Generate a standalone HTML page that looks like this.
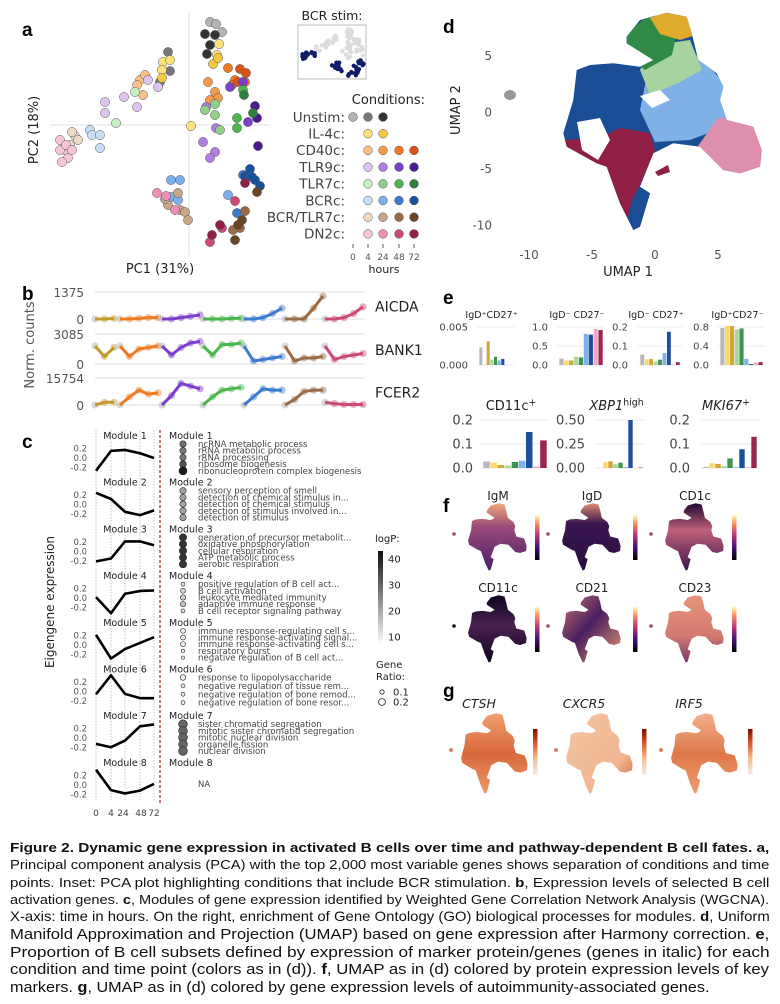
<!DOCTYPE html>
<html><head><meta charset="utf-8">
<style>
html,body{margin:0;padding:0;background:#fff;}
svg{display:block;font-family:"DejaVu Sans","Liberation Sans",sans-serif;}
</style></head>
<body>
<svg id="fig" width="780" height="1004" viewBox="0 0 780 1004" xmlns="http://www.w3.org/2000/svg">
<defs>
<linearGradient id="magma" x1="0" y1="1" x2="0" y2="0"><stop offset="0" stop-color="#000004"/><stop offset="0.3" stop-color="#51127c"/><stop offset="0.55" stop-color="#b73779"/><stop offset="0.8" stop-color="#fc8961"/><stop offset="1" stop-color="#fcfdbf"/></linearGradient>
<linearGradient id="oranges" x1="0" y1="1" x2="0" y2="0"><stop offset="0" stop-color="#eeeeee"/><stop offset="0.35" stop-color="#f6bf90"/><stop offset="0.7" stop-color="#d9572c"/><stop offset="1" stop-color="#7f0a00"/></linearGradient>
<linearGradient id="logpbar" x1="0" y1="1" x2="0" y2="0"><stop offset="0" stop-color="#ffffff"/><stop offset="1" stop-color="#111111"/></linearGradient>
<linearGradient id="gIgM" x1="0" y1="0" x2="0" y2="1"><stop offset="0" stop-color="#f2a878"/><stop offset="0.35" stop-color="#9a4a7a"/><stop offset="1" stop-color="#4a2068"/></linearGradient>
<linearGradient id="gIgD" x1="0" y1="0" x2="0" y2="1"><stop offset="0" stop-color="#e08a70"/><stop offset="0.3" stop-color="#3a1650"/><stop offset="1" stop-color="#2a0e40"/></linearGradient>
<linearGradient id="gCD1c" x1="0" y1="0" x2="0" y2="1"><stop offset="0" stop-color="#1e0a32"/><stop offset="0.4" stop-color="#c0607a"/><stop offset="1" stop-color="#3a1650"/></linearGradient>
<linearGradient id="gCD11c" x1="0" y1="0" x2="0" y2="1"><stop offset="0" stop-color="#100620"/><stop offset="0.45" stop-color="#4a2050"/><stop offset="1" stop-color="#100620"/></linearGradient>
<linearGradient id="gCD21" x1="0" y1="0" x2="1" y2="1"><stop offset="0" stop-color="#c87470"/><stop offset="0.45" stop-color="#4a1e60"/><stop offset="1" stop-color="#e89a70"/></linearGradient>
<linearGradient id="gCD23" x1="0" y1="0" x2="0" y2="1"><stop offset="0" stop-color="#e89478"/><stop offset="0.6" stop-color="#d27a70"/><stop offset="1" stop-color="#7a3a70"/></linearGradient>
<linearGradient id="gCTSH" x1="0" y1="0" x2="0" y2="1"><stop offset="0" stop-color="#f0a070"/><stop offset="0.5" stop-color="#d8683c"/><stop offset="1" stop-color="#ec9a6c"/></linearGradient>
<linearGradient id="gCXCR5" x1="0" y1="0" x2="1" y2="1"><stop offset="0" stop-color="#f4c6a4"/><stop offset="0.7" stop-color="#f0b690"/><stop offset="1" stop-color="#d05a30"/></linearGradient>
<linearGradient id="gIRF5" x1="0" y1="0" x2="0" y2="1"><stop offset="0" stop-color="#f2b090"/><stop offset="0.5" stop-color="#de7848"/><stop offset="1" stop-color="#ee9c70"/></linearGradient>
<path id="umapShape" d="M63.7,24.7 L77,8 L103.7,0.7 L123.7,4.7 L128.7,21.3 L135.3,48 L153.7,61.3 L160.3,74.7 L157,88 L163.7,108 L190.3,114.7 L198.7,138 L197,154.7 L177,161.3 L160.3,158 L137,134.7 L110.3,131.3 L90.3,141.3 L77,174.7 L87,181.3 L77,214.7 L70.3,218 L57,191.3 L43.7,154.7 L33.7,151.3 L3.7,134.7 L0.3,121.3 L10.3,88 L13.7,58 L27,53 L50.3,51.3 L77,54.7 L90.3,48 L63.7,31.3 Z"/>
<clipPath id="umapClip"><use href="#umapShape" transform="translate(563,12)"/></clipPath>
</defs>
<g id="root"></g>
</svg>
<script>
// ---------- DATA ----------
const condNames = ["Unstim:","IL-4c:","CD40c:","TLR9c:","TLR7c:","BCRc:","BCR/TLR7c:","DN2c:"];
const condColors = [
 ["#b3b3b3","#777777","#333333"],
 ["#fde27a","#f5c842"],
 ["#f9c08a","#f39a4c","#f07a22","#d9541c"],
 ["#dcc3f0","#b07ee3","#7c3fc9","#4a1a8e"],
 ["#c4efc1","#8fcf8a","#4bb54e","#2c8141"],
 ["#c6dff7","#7ab1ea","#3c7ad0","#17519c"],
 ["#eed9c6","#caa586","#9a6b44","#6a4525"],
 ["#f6c6d8","#ee8fb5","#cc4a7a","#93204a"]];
const condTimeCols = [[0,1,2],[1,2],[1,2,3,4],[1,2,3,4],[1,2,3,4],[1,2,3,4],[1,2,3,4],[1,2,3,4]];
const hourLabels = ["0","4","24","48","72"];
// PCA points: condition, shade, PC1, PC2
const pcaCond  = [0,0,0, 0,0,0, 0,0,0,0, 1,1,1,1,1,1, 1,1,1, 2,2,2,2, 2,2,2,2, 2,2,2,2, 2,2,2, 3,3,3,3,3,3, 3,3,3,3,3, 3,3,3, 3,3,3, 4,4, 4,4,4,4, 4,4,4, 4,4, 5,5,5,5, 5,5,5,5,5, 5,5, 5,5,5,5,5, 6,6,6,6, 6,6,6,6,6,6, 6,6,6, 6,6,6,6, 7,7,7,7,7,7,7, 7,7,7, 7,7,7, 7,7,7];
const pcaShade = [0,0,0, 1,1,1, 2,2,2,2, 0,0,0,0,0,0, 1,1,1, 0,0,0,0, 1,1,1,1, 2,2,2,2, 3,3,3, 0,0,0,0,0,0, 1,1,1,1,1, 2,2,2, 3,3,3, 0,0, 1,1,1,1, 2,2,2, 3,3, 0,0,0,0, 1,1,1,1,1, 2,2, 3,3,3,3,3, 0,0,0,0, 1,1,1,1,1,1, 2,2,2, 3,3,3,3, 0,0,0,0,0,0,0, 1,1,1, 2,2,2, 3,3,3];
const pcaPC1 = [10.5,13.5,16.5, -10.5,-9.5,-14.5, 8,13,10.5,9, -13,-9.5,-13.5,1,15,14, 12,14.5,-13.5, -24.5,-23,-22,-26, 9.5,13,14.5,10.5, 19.5,23,21.5,28, 25.5,28.5,24.5, -42,-42,-32.5,-26,-20.5,-15.5, 7,8.5,13,10.5,13.5, 20.5,27,29.5, 33,34,34.5, -36.5,-27, 13,13,15.5,8, 24,24,27, 27.5,32, -49.5,-48.5,-44.5,-44.5, -9,-4.5,-9,-5.5,19.5, 24,27, 30.5,28,31.5,35.5,33, -57,-55.5,-59.5,-58.5, -5.5,-4.5,-2,-10.5,-12,-0.5, 25.5,22,28, 34,26.5,24.5,23, -64.5,-62,-64.5,-60.5,-63.5,-61.5,-58.5, -16,-7,-11.5, 23,16.5,10.5, 28,15.5,11.5];
const pcaPC2 = [51.5,50.5,46.5, 36.5,27,21.5, 45.5,45,40,35.5, 31.5,32.5,27.5,-0.5,40.5,35, 30.5,33.5,23.5, 22.5,15,25,20, 21.5,16.5,13.5,12.5, 28.5,22.5,20,21.5, 28,26,21.5, 11.5,6,14,9,22.5,19, -8.5,9,-13.5,-16.5,-1.5, 19,21.5,1.5, 9.5,3.5,-10.5, 1,16.5, 10.5,5,-2.5,7.5, 3.5,-1.5,17.5, 15,6, -2.5,-5,-5,-11.5, -27.5,-27.5,-36,-37.5,-35, -44,-25, -22,-25.5,-26,-30.5,-27.5, -5.5,-7.5,-10,-3.5, -34,-42.5,-43.5,-40,-37,-47.5, -51.5,-52.5,-43, -33.5,-47.5,-50,-57.5, -7.5,-12.5,-12.5,-16.5,-18.5,-10,-12.5, -34,-42.5,-35.5, -38,-51.5,-58.5, -29,-50,-55];
const bcrStimConds = [5,6,7];

// Panel b
const bGenes = ["AICDA","BANK1","FCER2"];
const bMax = ["1375","3085","15754"];
const bGroupColors = ["#c49a2a","#f07a22","#7c3fc9","#4bb54e","#3c7ad0","#9a6b44","#cc4a7a"];
const bAICDA = [[0,0,0.02],[0,0,0.02,0.05,0.05],[0,0,0.05,0.1,0.15],[0,0,0,0.02,0.03],[0,0,0.05,0.2,0.4],[0,0,0,0.4,0.85],[0,0,0.05,0.2,0.45]];
const bBANK1 = [[0.6,0.25,0.55],[0.6,0.25,0.5,0.55,0.6],[0.6,0.3,0.55,0.7,0.75],[0.6,0.3,0.65,0.65,0.7],[0.6,0.1,0.15,0.2,0.25],[0.6,0.1,0.2,0.2,0.25],[0.6,0.15,0.25,0.3,0.35]];
const bFCER2 = [[0,0.1,0.1],[0,0.3,0.55,0.4,0.45],[0,0.35,0.8,0.7,0.6],[0,0.3,0.55,0.6,0.65],[0,0.3,0.6,0.55,0.55],[0,0.2,0.5,0.55,0.55],[0.1,0.05,0.02,0.02,0.02]];

// Panel c
const moduleNames = ["Module 1","Module 2","Module 3","Module 4","Module 5","Module 6","Module 7","Module 8"];
const eigenTicks = ["0.2","0.0","-0.2"];
const eigen = [[-0.27,0.15,0.17,0.1,0.0],[0.25,0.12,-0.15,-0.22,-0.12],[-0.21,-0.15,0.21,0.21,0.13],[0.02,-0.32,0.09,0.15,0.16],[0.21,-0.29,-0.09,0.04,0.16],[-0.06,0.34,-0.05,-0.14,-0.14],[-0.12,-0.19,-0.05,0.25,0.29],[0.32,-0.11,-0.18,-0.12,0.02]];
const goTerms = [
 ["ncRNA metabolic process","rRNA metabolic process","rRNA processing","ribosome biogenesis","ribonucleoprotein complex biogenesis"],
 ["sensory perception of smell","detection of chemical stimulus in...","detection of chemical stimulus","detection of stimulus involved in...","detection of stimulus"],
 ["generation of precursor metabolit...","oxidative phosphorylation","cellular respiration","ATP metabolic process","aerobic respiration"],
 ["positive regulation of B cell act...","B cell activation","leukocyte mediated immunity","adaptive immune response","B cell receptor signaling pathway"],
 ["immune response-regulating cell s...","immune response-activating signal...","immune response-activating cell s...","respiratory burst","negative regulation of B cell act..."],
 ["response to lipopolysaccharide","negative regulation of tissue rem...","negative regulation of bone remod...","negative regulation of bone resor..."],
 ["sister chromatid segregation","mitotic sister chromatid segregation","mitotic nuclear division","organelle fission","nuclear division"],
 []];
const goLogP = [[28,27,27,33,42],[20,20,20,20,20],[38,38,38,38,38],[10,12,13,15,10],[8,8,8,8,8],[8,8,8,8],[30,30,30,30,30],[]];
const goRatio = [[0.18,0.18,0.18,0.2,0.25],[0.18,0.18,0.18,0.18,0.18],[0.22,0.22,0.22,0.22,0.22],[0.08,0.12,0.14,0.14,0.08],[0.12,0.12,0.12,0.06,0.05],[0.15,0.08,0.08,0.08],[0.28,0.28,0.28,0.28,0.28],[]];
const logpTicks = [40,30,20,10];
const ratioTicks = [0.1,0.2];

// Panel d
const umapXTicks = [-10,-5,0,5];
const umapYTicks = [5,0,-5,-10];

// Panel e
const eColors = ["#b8b8b8","#fcd86a","#d4a537","#a9d89a","#3e9450","#7fb1ec","#1c4f9c","#f3a5c2","#9c2450"];
const eTitles = ["IgD⁺CD27⁺","IgD⁻ CD27⁻","IgD⁻ CD27⁺","IgD⁺CD27⁻"];
const eTicksTop = [["0.005","0.000"],["1.0","0.5","0.0"],["0.2","0.1","0.0"],["0.8","0.4","0.0"]];
const eMaxTop = [0.005,1.0,0.2,0.8];
const eVal1 = [0.0023,0,0.0031,0.0007,0.0011,0.0006,0.0008,0,0];
const eVal2 = [0.17,0.12,0.12,0.22,0.2,0.82,0.8,0.95,0.92];
const eVal3 = [0.055,0.03,0.032,0.018,0.028,0.063,0.175,0.002,0.015];
const eVal4 = [0.78,0.82,0.82,0.75,0.77,0.13,0.02,0.05,0.06];
const eTitlesBot = ["CD11c","XBP1","MKI67"];
const eTicksBot = [["0.2","0.1","0.0"],["0.50","0.25","0.00"],["0.2","0.1","0.0"]];
const eMaxBot = [0.2,0.5,0.2];
const eVal5 = [0.027,0.022,0.012,0.01,0.025,0.03,0.15,0.006,0.115];
const eVal6 = [0,0.06,0.07,0.04,0.055,0.01,0.5,0,0.005];
const eVal7 = [0.005,0.02,0.017,0.008,0.04,0.003,0.078,0.003,0.13];

// Panel f / g
const fMarkers = ["IgM","IgD","CD1c","CD11c","CD21","CD23"];
const gGenes = ["CTSH","CXCR5","IRF5"];

// ---------- DRAW ----------
const NS = "http://www.w3.org/2000/svg";
const root = document.getElementById("root");
function mk(tag, attrs, parent, txt){
  const e = document.createElementNS(NS, tag);
  for (const k in attrs) e.setAttribute(k, attrs[k]);
  if (txt !== undefined) e.textContent = txt;
  (parent || root).appendChild(e);
  return e;
}
function grp(parent){ return mk("g", {}, parent); }
let e;

// Panel labels
const panelLabels = [["a",22,36],["b",22,300],["c",22,448],["d",443,33],["e",443,304],["f",443,512],["g",443,697]];
for (const p of panelLabels){
  e = mk("text",{x:p[1],y:p[2],"font-size":"19","font-weight":"bold","font-family":"Liberation Sans, sans-serif"},root,p[0]);
  
  
}

// ===== Panel a =====
const gA = grp();  
const ax = v => 189 + v*2, ay = v => 125 - v*2;
e = mk("line",{x1:50,x2:270,y1:ay(0),y2:ay(0),stroke:"#e6e6e6","stroke-width":1.2},gA);
 
e = mk("line",{x1:ax(0),x2:ax(0),y1:12,y2:255,stroke:"#e6e6e6","stroke-width":1.2},gA);
 
for (let i=0;i<pcaPC1.length;i++){
  e = mk("circle",{cx:ax(pcaPC1[i]),cy:ay(pcaPC2[i]),r:4.6,fill:condColors[pcaCond[i]][pcaShade[i]],stroke:"#555","stroke-width":0.5},gA);
  
  
}
e = mk("text",{x:160,y:273,"font-size":"13","text-anchor":"middle",fill:"#222"},gA,"PC1 (31%)");
 
e = mk("text",{x:0,y:0,"font-size":"13","text-anchor":"middle",fill:"#222",transform:"translate(38,130) rotate(-90)"},gA,"PC2 (18%)");
 
// inset
e = mk("text",{x:332,y:20,"font-size":"12.5","text-anchor":"middle",fill:"#222"},gA,"BCR stim:");
 
e = mk("rect",{x:298,y:25,width:68,height:54,fill:"#fff",stroke:"#bbb","stroke-width":1},gA);
 
const ix = v => 301 + (ax(v)-55)*0.305, iy = v => 28 + (ay(v)-15)*0.21;
for (let i=0;i<pcaPC1.length;i++){
  const isB = bcrStimConds.includes(pcaCond[i]);
  e = mk("circle",{cx:ix(pcaPC1[i]),cy:iy(pcaPC2[i]),r:2.2,fill:isB?"#101e6a":"#dcdcdc"},gA);
   
}
// legend
e = mk("text",{x:425,y:104,"font-size":"13","text-anchor":"end",fill:"#222"},gA,"Conditions:");
 
const legCols = [353,368,383,399,414];
for (let c=0;c<condNames.length;c++){
  const y = 117 + c*16.7;
  e = mk("text",{x:345,y:y+4.8,"font-size":"13.5","text-anchor":"end",fill:"#444"},gA,condNames[c]);
   
  for (let s=0;s<condColors[c].length;s++){
    e = mk("circle",{cx:legCols[condTimeCols[c][s]],cy:y,r:4.4,fill:condColors[c][s],stroke:"#555","stroke-width":0.5},gA);
     
  }
}
for (let t=0;t<hourLabels.length;t++){
  e = mk("line",{x1:legCols[t],x2:legCols[t],y1:244,y2:248,stroke:"#555","stroke-width":1},gA);
   
  e = mk("text",{x:legCols[t],y:260,"font-size":"9","text-anchor":"middle",fill:"#555"},gA,hourLabels[t]);
   
}
e = mk("text",{x:384,y:273,"font-size":"11","text-anchor":"middle",fill:"#222"},gA,"hours");
 

// ===== Panel b =====
const gB = grp();  
const bRows = [[292,319],[334,364],[378,405]];
const bData = [bAICDA,bBANK1,bFCER2];
const bStarts = [95,120,162,203,244,285,325];
for (let r=0;r<3;r++){
  const top=bRows[r][0], base=bRows[r][1];
  const by = v => base - v*(base-top);
  for (const yy of [top,base]){
    e = mk("line",{x1:95,x2:365,y1:yy,y2:yy,stroke:"#e4e4e4","stroke-width":1.2},gB);
     
  }
  e = mk("text",{x:84,y:top+5,"font-size":"12","text-anchor":"end",fill:"#555"},gB,bMax[r]);
   
  e = mk("text",{x:84,y:base+5,"font-size":"12","text-anchor":"end",fill:"#555"},gB,"0");
   
  e = mk("text",{x:375,y:(top+base)/2+6,"font-size":"14",fill:"#222"},gB,bGenes[r]);
   
  for (let g=0;g<7;g++){
    const vals = bData[r][g];
    const pts = vals.map((v,i)=>[bStarts[g]+i*9.5, by(v)]);
    for (let i=0;i<pts.length;i++){
      e = mk("circle",{cx:pts[i][0],cy:pts[i][1],r:3.6,fill:i===0?"#aaaaaa":bGroupColors[g],"fill-opacity":0.45},gB);
       
    }
    e = mk("polyline",{points:pts.map(p=>p.join(",")).join(" "),fill:"none",stroke:bGroupColors[g],"stroke-width":3,"stroke-linejoin":"round"},gB);
     
  }
}
e = mk("text",{x:0,y:0,"font-size":"13","text-anchor":"middle",fill:"#555",transform:"translate(34,345) rotate(-90)"},gB,"Norm. counts");
 

// ===== Panel c =====
const gC = grp();  
const cX = [96,111,125,140,154];
for (let t=0;t<cX.length;t++){
  e = mk("line",{x1:cX[t],x2:cX[t],y1:430,y2:802,stroke:"#aaa","stroke-width":0.7,"stroke-dasharray":"1.5,1.5"},gC);
   
  e = mk("text",{x:cX[t]+(t===2?-2:t===3?1:0),y:816,"font-size":"9","text-anchor":"middle",fill:"#444"},gC,hourLabels[t]);
   
}
e = mk("line",{x1:160,x2:160,y1:430,y2:803,stroke:"#8b2c1e","stroke-width":1.2,"stroke-dasharray":"3,2"},gC);
 
e = mk("text",{x:0,y:0,"font-size":"12","text-anchor":"middle",fill:"#222",transform:"translate(54,602) rotate(-90)"},gC,"Eigengene expression");
 
const greyOf = lp => { let t=Math.max(0,Math.min(1,(lp-6)/38)); const g=Math.round(250-t*235); return "rgb("+g+","+g+","+g+")"; };
const radOf = ra => 1+ra*12;
for (let m=0;m<8;m++){
  const ty = 435 + m*46.7;
  const zy = v => ty + 23 - v*47.5;
  e = mk("text",{x:125,y:ty+4,"font-size":"9.5","text-anchor":"middle",fill:"#222"},gC,moduleNames[m]);
   
  const tv=[0.2,0.0,-0.2];
  for (let k=0;k<3;k++){
    e = mk("text",{x:87,y:zy(tv[k])+3,"font-size":"8.5","text-anchor":"end",fill:"#555"},gC,eigenTicks[k]);
     
  }
  e = mk("polyline",{points:eigen[m].map((v,i)=>cX[i]+","+zy(v)).join(" "),fill:"none",stroke:"#000","stroke-width":2.6,"stroke-linejoin":"round"},gC);
   
  e = mk("text",{x:169,y:ty+4,"font-size":"9.5",fill:"#222"},gC,moduleNames[m]);
   
  const n = goTerms[m].length;
  const sp = n? 33.5/n : 0;
  for (let k=0;k<n;k++){
    const yy = ty + 9 + k*sp;
    e = mk("circle",{cx:183,cy:yy,r:radOf(goRatio[m][k]),fill:greyOf(goLogP[m][k]),stroke:"#222","stroke-width":0.6},gC);
     
    e = mk("text",{x:198,y:yy+3,"font-size":"8.6",fill:"#444"},gC,goTerms[m][k]);
     
  }
  if (n===0){
    e = mk("text",{x:198,y:787,"font-size":"8.5",fill:"#444"},gC,"NA");
     
  }
}
e = mk("text",{x:375,y:542,"font-size":"10",fill:"#222"},gC,"logP:");
 
e = mk("rect",{x:378,y:551,width:5,height:94,fill:"url(#logpbar)"},gC);
 
for (const t of logpTicks){
  const yy = 645 - (t-7)/36*94;
  e = mk("text",{x:388,y:yy+3.5,"font-size":"10",fill:"#222"},gC,String(t));
   
}
e = mk("text",{x:376,y:668,"font-size":"10",fill:"#222"},gC,"Gene");
 
e = mk("text",{x:376,y:680,"font-size":"10",fill:"#222"},gC,"Ratio:");
 
for (let k=0;k<ratioTicks.length;k++){
  const yy = 692 + k*10;
  e = mk("circle",{cx:382,cy:yy,r:radOf(ratioTicks[k]),fill:"#fff",stroke:"#222","stroke-width":0.8},gC);
   
  e = mk("text",{x:393,y:yy+3.5,"font-size":"10",fill:"#222"},gC,String(ratioTicks[k]));
   
}

// ===== Panel d =====
const gD = grp();  
const ux = v => 655 + v*12.6, uy = v => 112 - v*11.3;
const regions = [
 ["#7fb0e6","650,60 700,55 725,85 730,125 690,140 655,142 640,110"],
 ["#a7d3a0","655,45 690,40 702,70 680,82 650,95 640,70"],
 ["#2f8a45","618,40 650,14 680,18 672,55 645,70 622,52"],
 ["#e0aa2c","650,18 670,10 692,14 696,35 680,40 660,34"],
 ["#8f1f45","563,140 600,138 620,128 650,133 655,150 640,185 632,200 625,228 600,180 580,165"],
 ["#de8fae","718,118 770,118 770,178 718,178 698,146"],
 ["#1a4d94","634,195 652,190 650,232 632,232"]];
const gU = mk("g",{"clip-path":"url(#umapClip)"},gD);
e = mk("rect",{x:560,y:8,width:215,height:230,fill:"#1a4d94"},gU);
 
for (const r of regions){
  e = mk("polygon",{points:r[1],fill:r[0]},gU);
   
}
e = mk("polygon",{points:"577,122 600,118 610,140 598,160 582,150",fill:"#fff"},gD);
 
e = mk("polygon",{points:"640,96 660,90 670,100 652,108",fill:"#fff"},gD);
 
e = mk("polygon",{points:"655,172 668,165 670,172 658,176",fill:"#8f1f45"},gD);
 
e = mk("ellipse",{cx:510,cy:95,rx:6,ry:5,fill:"#999"},gD);
 
for (const t of umapXTicks){
  e = mk("text",{x:ux(t),y:259,"font-size":"12","text-anchor":"middle",fill:"#555"},gD,String(t));
   
}
for (const t of umapYTicks){
  e = mk("text",{x:492,y:uy(t)+4.5,"font-size":"12","text-anchor":"end",fill:"#555"},gD,String(t));
   
}
e = mk("text",{x:628,y:276,"font-size":"13","text-anchor":"middle",fill:"#222"},gD,"UMAP 1");
 
e = mk("text",{x:0,y:0,"font-size":"13","text-anchor":"middle",fill:"#222",transform:"translate(460,110) rotate(-90)"},gD,"UMAP 2");
 

// ===== Panel e =====
const gE = grp();  
function barChart(vals, maxv, ticks, x0, x1, top, base, labelX, fs, title, titleX, titleY, titleFs, name, italic, sup){
  const yb = v => base - v/maxv*(base-top);
  const tickVals = ticks.map((t,i)=> maxv*(1 - i/(ticks.length-1)));
  for (let i=0;i<ticks.length;i++){
    const yy = yb(tickVals[i]);
    e = mk("line",{x1:x0-2,x2:x1+2,y1:yy,y2:yy,stroke:"#ebebeb","stroke-width":1},gE);
     
    e = mk("text",{x:labelX,y:yy+fs*0.36,"font-size":fs,"text-anchor":"end",fill:"#444"},gE,ticks[i]);
     
  }
  const bw = (x1-x0)/vals.length;
  for (let i=0;i<vals.length;i++){
    const h = base - yb(vals[i]);
    e = mk("rect",{x:x0+i*bw+0.3,y:base-h,width:bw-0.6,height:h,fill:eColors[i]},gE);
    
    
  }
  const t = mk("text",{x:titleX,y:titleY,"font-size":titleFs,"text-anchor":"middle",fill:"#222","font-style":italic?"italic":"normal"},gE,title);
  if (sup){ mk("tspan",{"font-size":titleFs*0.72,dy:-titleFs*0.35,"font-style":"normal"},t,sup); }
   
}
const topVals = [eVal1,eVal2,eVal3,eVal4];
const topX = [[479,512],[559,603],[640,680],[720,763]];
const topLab = [468,548,628,709];
for (let c=0;c<4;c++) barChart(topVals[c],eMaxTop[c],eTicksTop[c],topX[c][0],topX[c][1],327,365,topLab[c],10,eTitles[c],(topX[c][0]+topX[c][1])/2-4,318,9.5,"subset-"+(c+1),false,null);
const botVals = [eVal5,eVal6,eVal7];
const botX = [[483,547],[598,643],[703,757]];
const botLab = [473,585,690];
const botSup = ["+","high","+"];
for (let c=0;c<3;c++) barChart(botVals[c],eMaxBot[c],eTicksBot[c],botX[c][0],botX[c][1],420,468,botLab[c],13,eTitlesBot[c],(botX[c][0]+botX[c][1])/2-4,410,13,"marker-"+(c+1),c>0,botSup[c]);

// ===== Panels f & g =====
const gF = grp();  
const fPos = [[468,503],[562,503],[665,503],[468,595],[562,595],[665,595]];
const fFill = ["gIgM","gIgD","gCD1c","gCD11c","gCD21","gCD23"];
const fBar = [[535,515],[633,515],[732,515],[535,607],[633,607],[732,607]];
for (let i=0;i<6;i++){
  e = mk("use",{href:"#umapShape",transform:"translate("+fPos[i][0]+","+fPos[i][1]+") scale(0.295,0.31)",fill:"url(#"+fFill[i]+")"},gF);
   
  e = mk("circle",{cx:fPos[i][0]-14,cy:fPos[i][1]+31,r:1.8,fill:i===3?"#111":"#a04a70"},gF);
   
  e = mk("text",{x:fPos[i][0]+30,y:fPos[i][1]-3,"font-size":"12","text-anchor":"middle",fill:"#222"},gF,fMarkers[i]);
   
  e = mk("rect",{x:fBar[i][0],y:fBar[i][1],width:4.5,height:45,fill:"url(#magma)"},gF);
   
}
const gG = grp();  
const gPos = [[461,713],[566,713],[671,713]];
const gFill = ["gCTSH","gCXCR5","gIRF5"];
const gBarX = [533,642,748];
for (let i=0;i<3;i++){
  e = mk("use",{href:"#umapShape",transform:"translate("+gPos[i][0]+","+gPos[i][1]+") scale(0.335,0.37)",fill:"url(#"+gFill[i]+")"},gG);
   
  e = mk("circle",{cx:gPos[i][0]-10,cy:gPos[i][1]+37,r:2,fill:"#e08060"},gG);
   
  e = mk("text",{x:gPos[i][0]+18,y:708,"font-size":"12.5","text-anchor":"middle","font-style":"italic",fill:"#222"},gG,gGenes[i]);
   
  e = mk("rect",{x:gBarX[i],y:729,width:4.5,height:46,fill:"url(#oranges)"},gG);
   
}

// ===== Caption =====
const gCap = grp();  
const capLines = [
 [[["Figure 2. Dynamic gene expression in activated B cells over time and pathway-dependent B cell fates. a,",1]],852,13,760],
 [[["Principal component analysis (PCA) with the top 2,000 most variable genes shows separation of conditions and time",0]],869,13,760],
 [[["points. Inset: PCA plot highlighting conditions that include BCR stimulation. ",0],["b",1],[", Expression levels of selected B cell",0]],887,13,760],
 [[["activation genes. ",0],["c",1],[", Modules of gene expression identified by Weighted Gene Correlation Network Analysis (WGCNA).",0]],904,13,760],
 [[["X-axis: time in hours. On the right, enrichment of Gene Ontology (GO) biological processes for modules. ",0],["d",1],[", Uniform",0]],921,13.5,760],
 [[["Manifold Approximation and Projection (UMAP) based on gene expression after Harmony correction. ",0],["e",1],[",",0]],939,15,760],
 [[["Proportion of B cell subsets defined by expression of marker protein/genes (genes in italic) for each",0]],957,15,760],
 [[["condition and time point (colors as in (d)). ",0],["f",1],[", UMAP as in (d) colored by protein expression levels of key",0]],974,15,760],
 [[["markers. ",0],["g",1],[", UMAP as in (d) colored by gene expression levels of autoimmunity-associated genes.",0]],992,15,700]];
for (const L of capLines){
  const t = mk("text",{x:0,y:0,"font-size":L[2],"font-family":"Liberation Sans, sans-serif",fill:"#111"},gCap);
   
  for (const seg of L[0]){ mk("tspan",{"font-weight":seg[1]?"bold":"normal"},t,seg[0]); }
  const w = t.getComputedTextLength() || L[3];
  t.setAttribute("transform","translate(10,"+L[1]+") scale("+(L[3]/w)+",1)");
}
</script>
</body></html>
